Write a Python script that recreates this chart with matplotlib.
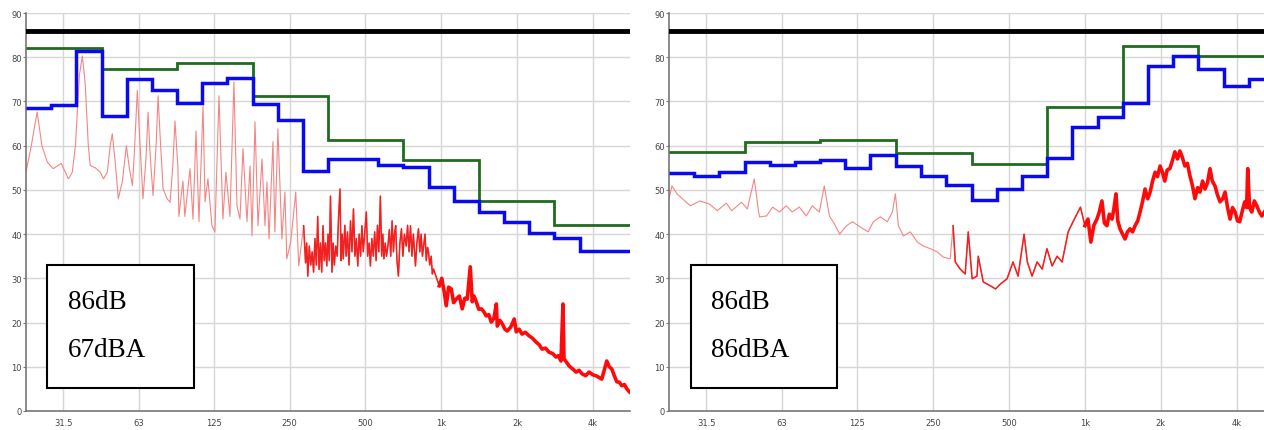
import numpy as np
import matplotlib
matplotlib.use("Agg")
import matplotlib.pyplot as plt
from matplotlib.patches import Rectangle

# band definitions (Hz)
octave_edges = [22.4, 44.7, 89.1, 178, 355, 708, 1413, 2818, 5623]
third_edges = [22.4, 28.2, 35.5, 44.7, 56.2, 70.8, 89.1, 112, 141, 178, 224, 282,
               355, 447, 562, 708, 891, 1122, 1413, 1778, 2239, 2818, 3548, 4467, 5623]

tick_freqs = [31.5, 63, 125, 250, 500, 1000, 2000, 4000]
tick_labels = ['31.5', '63', '125', '250', '500', '1k', '2k', '4k']

limit_level = 86

# left panel
oct_left = [82.0, 77.4, 78.6, 71.3, 61.2, 56.8, 47.6, 42.1]
third_left = [68.5, 69.2, 81.5, 66.6, 75.0, 72.7, 69.7, 74.2, 75.3, 69.5, 65.7, 54.2,
              57.0, 57.0, 55.7, 55.2, 50.6, 47.6, 45.0, 42.7, 40.2, 39.1, 36.2, 36.1]
spec_f_left = [22.4, 23.5, 24.8, 25.9, 27.2, 28.7, 30.0, 30.9, 32.1, 33.0, 34.2, 35.2,
               36.5, 37.5, 38.5, 39.6, 40.3, 42.2, 44.2, 45.5, 47.1, 48.4, 49.3, 50.7,
               52.1, 54.1, 56.1, 57.6, 59.3, 60.3, 62.0, 63.6, 65.3, 67.1, 68.4, 69.7,
               71.6, 73.6, 75.0, 76.4, 78.5, 81.4, 83.7, 85.9, 87.5, 89.9, 90.7, 94.1,
               95.8, 100.4, 103.2, 106.1, 109.0, 113.1, 115.2, 118.3, 122.7, 126.1, 130.9,
               135.7, 139.5, 144.7, 150.1, 154.3, 158.6, 163.0, 169.1, 173.9, 177.1, 182.0,
               187.0, 194.0, 199.4, 203.0, 206.9, 214.5, 218.3, 224.4, 232.8, 239.3, 243.3,
               252.3, 264.2, 271.5,
               284, 289, 292, 295, 299, 303, 307, 311, 315, 319, 323, 327, 331, 335, 339,
               343, 347, 351, 355, 359, 363, 368, 372, 376, 381, 386, 391, 396, 400, 404,
               408, 414, 419, 424, 430, 436, 442, 448, 454, 460, 466, 472, 478, 484, 490,
               496, 504, 510, 517, 523, 530, 537, 544, 551, 558, 565, 573, 580, 586, 592,
               599, 606, 614, 622, 630, 638, 646, 652, 659, 667, 676, 685, 695, 704, 714,
               726, 735, 745, 755, 765, 775, 790, 800, 812, 822, 832, 842, 851, 862, 872,
               882, 890, 900, 912, 922, 932,
               982, 1005, 1028, 1047, 1070, 1096, 1120, 1147, 1180, 1212, 1240, 1269, 1304,
               1328, 1350, 1378, 1410, 1443, 1475, 1510, 1545, 1581, 1620, 1655, 1670, 1710,
               1749, 1790, 1830, 1890, 1950, 1987, 2040, 2094, 2160, 2232, 2300, 2380, 2450,
               2514, 2600, 2680, 2770, 2857, 2920, 2991, 3046, 3074, 3150, 3219, 3330, 3434,
               3530, 3629, 3750, 3869, 4000, 4148, 4344, 4548, 4650, 4761, 4870, 4985, 5100,
               5219, 5340, 5464, 5600]
spec_db_left = [54.0, 60.0, 67.6, 60.0, 56.3, 54.8, 55.5, 56.0, 54.0, 52.5, 54.0, 60.0,
                76.0, 80.3, 74.0, 60.0, 55.5, 55.0, 54.0, 52.5, 54.0, 60.0, 62.7, 56.0,
                48.0, 52.0, 60.0, 55.0, 51.0, 58.0, 72.5, 60.0, 48.0, 57.0, 67.6, 58.0,
                48.7, 60.0, 71.3, 62.0, 50.2, 48.0, 47.2, 56.0, 65.6, 55.0, 44.0, 52.0,
                44.0, 54.8, 43.4, 63.3, 42.8, 69.0, 47.3, 52.5, 41.9, 40.5, 71.3,
                43.4, 54.0, 44.0, 74.4, 46.4, 43.4, 59.3, 42.8, 55.4, 39.6, 65.4,
                41.9, 57.0, 41.9, 51.8, 38.9, 60.9, 40.5, 63.8, 38.9, 49.5, 34.4,
                38.2, 49.5, 32.8,
                41.9, 33.5, 38.0, 30.5, 37.3, 33.0, 36.0, 31.4, 39.0, 33.0, 44.0, 32.0, 38.0,
                31.4, 41.9, 34.0, 38.0, 32.8, 40.0, 34.0, 48.6, 31.4, 38.0, 33.0, 37.3, 35.0,
                44.0, 50.2, 34.0, 40.0, 34.4, 42.0, 35.0, 40.5, 33.0, 43.0, 36.0, 45.7, 35.0,
                39.0, 32.8, 40.0, 35.0, 41.9, 36.0, 40.0, 45.0, 35.0, 38.0, 32.8, 39.0, 35.0,
                40.5, 34.0, 42.0, 36.0, 48.6, 35.0, 40.0, 34.4, 38.0, 35.0, 37.3, 41.0, 35.0,
                43.0, 36.0, 40.0, 41.9, 34.0, 30.5, 38.0, 41.2, 35.0, 40.0, 37.3, 42.0, 36.0,
                41.9, 35.0, 40.0, 32.8, 38.0, 41.2, 36.0, 40.0, 35.0, 37.3, 40.0, 34.0, 37.0,
                36.0, 33.0, 35.0, 31.0, 32.1,
                28.3, 30.0, 26.9, 23.8, 28.0, 27.6, 24.5, 25.3, 26.0, 23.1, 25.5, 25.3, 32.6,
                24.7, 26.0, 24.7, 23.0, 23.1, 22.5, 21.5, 21.8, 20.1, 21.0, 24.2, 19.2, 20.5,
                19.7, 18.5, 18.1, 19.0, 20.8, 17.9, 18.5, 17.4, 17.8, 17.0, 16.5, 15.6, 15.0,
                14.0, 14.2, 13.3, 13.0, 12.2, 12.5, 11.3, 24.2, 11.8, 11.0, 10.2, 9.5, 8.8,
                9.2, 8.4, 8.0, 8.8, 8.2, 7.9, 7.2, 11.3, 10.0, 9.5, 8.0, 6.6, 6.5,
                5.7, 6.0, 5.0, 4.3]

# right panel
oct_right = [58.6, 60.9, 61.3, 58.4, 55.9, 68.8, 82.6, 80.3]
third_right = [53.8, 53.2, 54.0, 56.4, 55.7, 56.3, 56.7, 54.9, 57.9, 55.5, 53.2, 51.2,
               47.8, 50.1, 53.1, 57.2, 64.2, 66.4, 69.6, 78.1, 80.2, 77.4, 73.5, 75.0]
spec_f_right = [22.4, 23.0, 24.1, 27.2, 29.7, 32.4, 34.8, 37.8, 39.7, 43.4, 45.8, 48.8,
                50.8, 51.2, 54.6, 57.7, 61.5, 65.3, 69.0, 73.6, 78.5, 82.9, 88.4, 92.5,
                96.9, 101.5, 106.4, 113.4, 119.6, 128.5, 138.2, 144.7, 154.3, 164.5, 172.3,
                177.1, 182.0, 190.5, 203.0, 216.5, 228.6, 243.7, 259.3, 274, 292, 300, 306,
                320, 335, 344.5, 357, 373, 377.5, 395, 422, 442, 462, 491, 518.6, 543,
                573.6, 591, 617, 646, 677, 707, 741, 776, 812, 858, 897, 960,
                1000, 1028, 1056, 1085, 1116, 1140, 1168, 1195, 1223, 1250, 1281, 1305, 1328,
                1350, 1378, 1410, 1443, 1475, 1510, 1545, 1581, 1620, 1655, 1695, 1732, 1775,
                1814, 1855, 1898, 1940, 1987, 2030, 2074, 2120, 2172, 2220, 2274, 2330, 2380,
                2430, 2492, 2550, 2609, 2670, 2732, 2800, 2860, 2930, 2994, 3060, 3134, 3200,
                3281, 3350, 3435, 3520, 3597, 3680, 3765, 3850, 3942, 4030, 4111, 4200, 4304,
                4380, 4424, 4500, 4591, 4700, 4807, 4920, 5033, 5150]
spec_db_right = [48.0, 50.9, 49.1, 46.4, 47.5, 46.8, 45.3, 47.0, 45.3, 47.2, 45.7, 52.5,
                 45.0, 43.9, 44.1, 46.1, 45.0, 46.4, 45.0, 46.1, 44.1, 46.4, 45.0, 50.9,
                 44.1, 42.3, 40.0, 41.9, 42.8, 41.6, 40.5, 42.8, 43.9, 42.8, 45.0,
                 49.1, 41.9, 39.6, 40.5, 38.2, 37.3, 36.7, 36.0, 34.8, 34.4, 41.9, 33.7,
                 32.1, 31.0, 40.5, 29.9, 30.5, 35.0, 29.2, 28.3, 27.6, 28.7, 29.9, 33.7, 30.5,
                 40.0, 33.7, 30.5, 33.7, 32.1, 36.7, 32.8, 35.0, 33.7, 40.5, 42.8, 46.1,
                 41.9, 43.4, 38.2, 42.0, 43.4, 45.0, 47.5, 42.5, 41.9, 44.5, 43.4, 46.0, 49.1,
                 43.0, 41.2, 40.0, 38.9, 40.5, 41.2, 40.5, 41.9, 43.0, 45.0, 47.5, 50.2, 48.0,
                 49.5, 52.0, 54.0, 53.0, 55.4, 54.0, 52.0, 54.5, 54.8, 56.5, 58.6, 57.0, 58.8,
                 57.5, 55.4, 56.0, 53.2, 51.0, 48.0, 50.5, 49.5, 52.0, 50.2, 51.5, 54.8, 52.0,
                 50.9, 49.0, 47.3, 48.0, 49.5, 46.0, 43.4, 46.0, 45.0, 43.0, 42.8, 45.0, 47.3,
                 46.0, 54.8, 46.0, 45.0, 47.5, 46.4, 45.0, 44.1, 45.0]

panels = [
    (oct_left, third_left, spec_f_left, spec_db_left, '86dB', '67dBA', 280, 950),
    (oct_right, third_right, spec_f_right, spec_db_right, '86dB', '86dBA', 300, 1000),
]

fig = plt.figure(figsize=(12.64, 4.31), dpi=100)
ax_pos = [[0.0206, 0.0441, 0.4778, 0.9234],
          [0.5293, 0.0441, 0.4786, 0.9234]]

for pos, (octv, third, sf, sdb, t1, t2, dense_from, thick_from) in zip(ax_pos, panels):
    ax = fig.add_axes(pos)
    ax.set_xscale('log')
    ax.set_xlim(22.4, 5623)
    ax.set_ylim(0, 90)

    sf = np.array(sf)
    sdb = np.array(sdb)
    # narrowband spectrum: thin at low freq, denser/thicker higher up
    ax.plot(sf, sdb, color='#f58585', lw=0.8, zorder=2)
    m = sf >= dense_from
    ax.plot(sf[m], sdb[m], color='#f22020', lw=1.1, zorder=2)
    m = sf >= thick_from
    ax.plot(sf[m], sdb[m], color='#ff0a0a', lw=2.6, zorder=2)

    ax.stairs(octv, octave_edges, color='#1f6b1f', lw=2, baseline=None, zorder=3)
    ax.stairs(third, third_edges, color='#0a0af0', lw=2.5, baseline=None, zorder=4)
    ax.axhline(limit_level, color='black', lw=3.5, zorder=5)

    ax.set_xticks(tick_freqs)
    ax.set_xticklabels(tick_labels)
    ax.xaxis.set_minor_locator(matplotlib.ticker.NullLocator())
    ax.set_yticks(range(0, 91, 10))
    ax.tick_params(axis='x', length=0, labelsize=6, labelcolor='#444444', pad=5)
    ax.tick_params(axis='y', length=2, width=0.8, color='#777777', labelsize=6,
                   labelcolor='#444444', pad=1)
    ax.grid(True, color='#d6d6d6', lw=1.0)
    ax.set_axisbelow(True)
    for s in ['top', 'right']:
        ax.spines[s].set_visible(False)
    for s in ['left', 'bottom']:
        ax.spines[s].set_color('#777777')
        ax.spines[s].set_linewidth(1.2)

    ax.add_patch(Rectangle((0.0355, 0.058), 0.2425, 0.309, transform=ax.transAxes,
                           facecolor='white', edgecolor='black', lw=1.5, zorder=6))
    ax.text(0.0695, 0.274, t1, transform=ax.transAxes, fontsize=19.5,
            family='Liberation Serif', va='center', ha='left', zorder=7)
    ax.text(0.0695, 0.154, t2, transform=ax.transAxes, fontsize=19.5,
            family='Liberation Serif', va='center', ha='left', zorder=7)

fig.savefig('out.png', dpi=100)
